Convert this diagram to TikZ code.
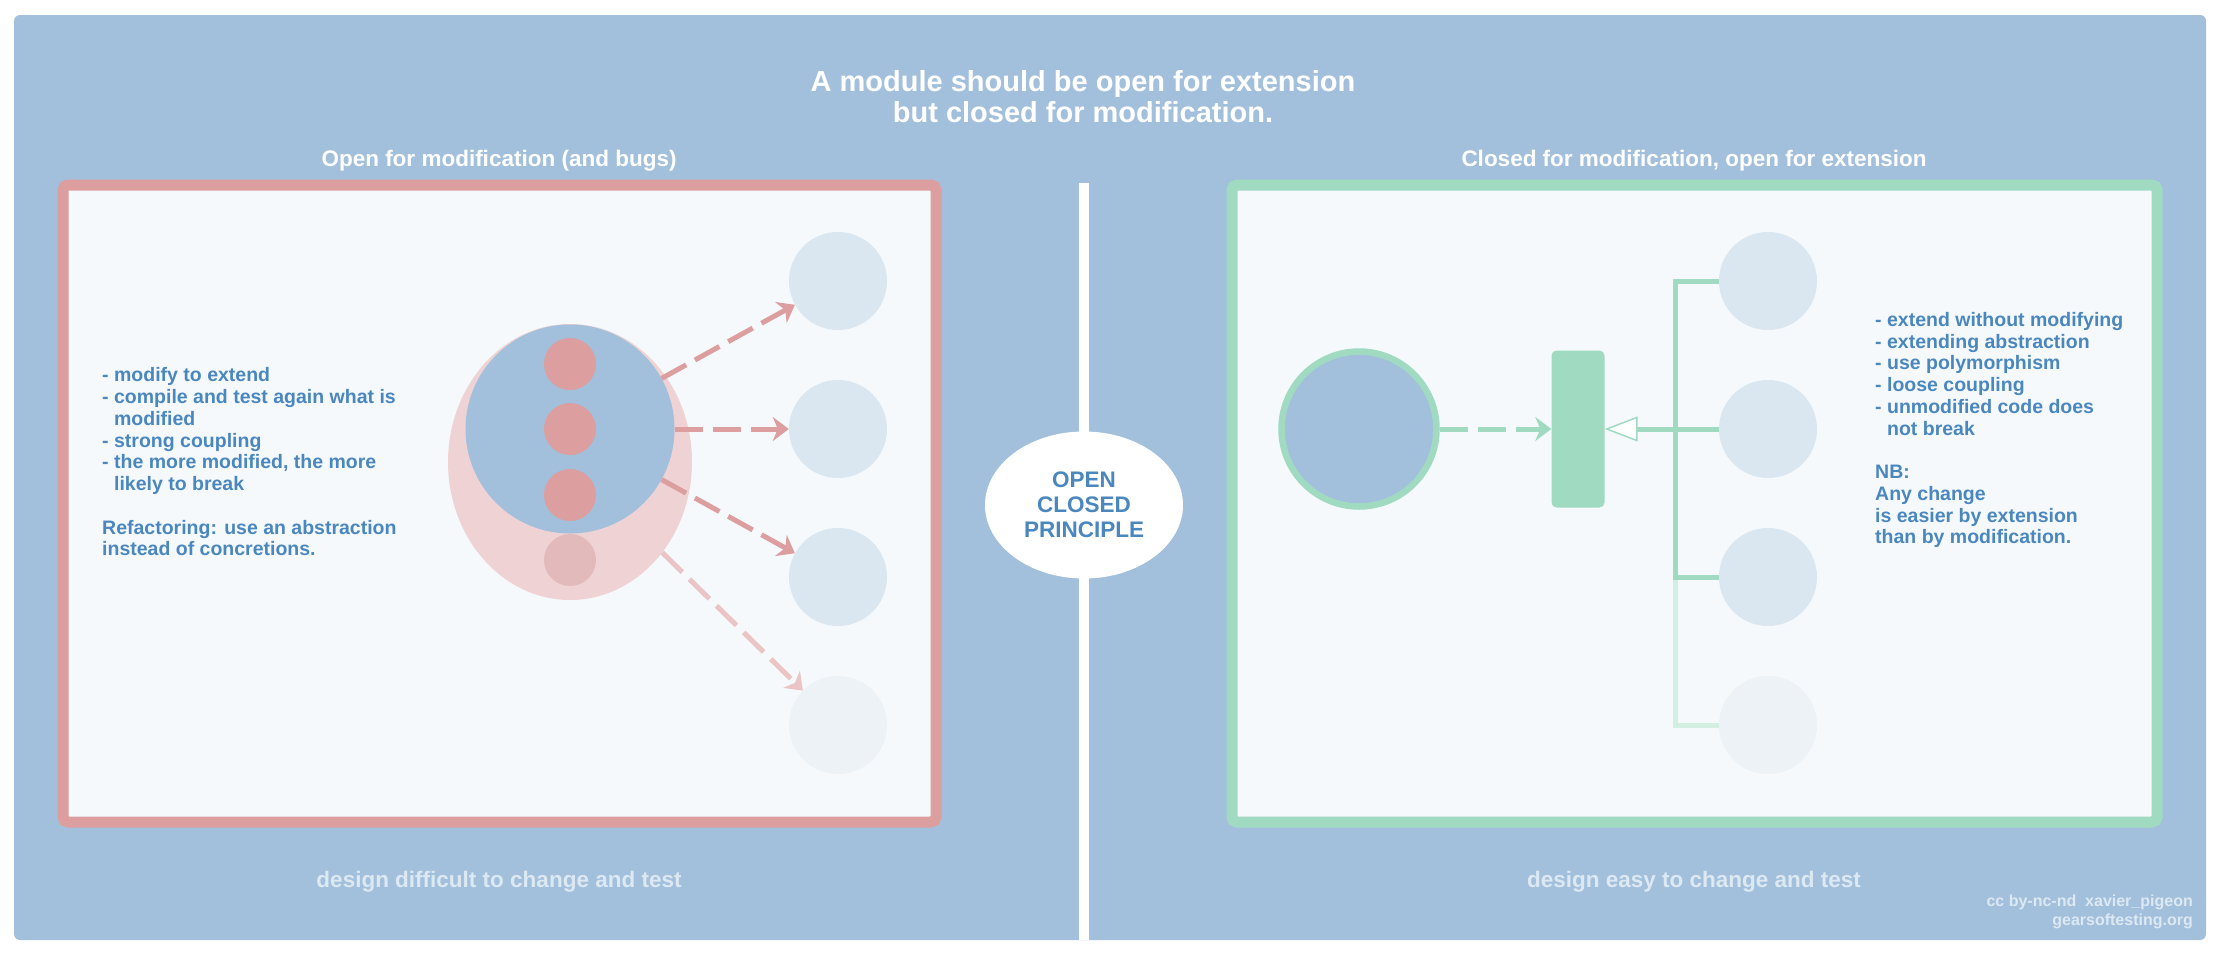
\documentclass[tikz,border=0pt]{standalone}
\usepackage{fontspec}
\setmainfont{Liberation Sans}
\usetikzlibrary{arrows.meta, shapes.geometric}

\definecolor{bgblue}{HTML}{A2C0DC}
\definecolor{paper}{HTML}{F5F9FC}
\definecolor{redline}{HTML}{DC9E9E}
\definecolor{redfaint}{HTML}{EBC5C5}
\definecolor{pinkshell}{HTML}{EFD3D4}
\definecolor{dotfaint}{HTML}{E3BABB}
\definecolor{greenline}{HTML}{A0DBC1}
\definecolor{greenfaint}{HTML}{D2EFE2}
\definecolor{extblue}{HTML}{DAE6F0}
\definecolor{extfaint}{HTML}{EDF2F6}
\definecolor{textblue}{HTML}{4A87BF}
\definecolor{pale}{HTML}{DCE8F2}

\begin{document}
\begin{tikzpicture}[
    x=1pt, y=-1pt,
    every node/.style={inner sep=0pt, font=\bfseries},
    heading/.style={text=white, align=center, font=\fontsize{22.5}{26}\selectfont\bfseries},
    verdict/.style={text=pale, font=\fontsize{22.5}{26}\selectfont\bfseries},
    panel/.style={rectangle, line width=11pt, fill=paper, rounded corners=5pt},
    notes/.style={text=textblue, align=left, anchor=west, font=\fontsize{19.5}{21.75}\selectfont\bfseries},
    blob/.style={circle, minimum size=98pt},
    bugdot/.style={circle, minimum size=52pt},
    dep/.style={line width=5pt, dash pattern=on 28pt off 10pt, -{Stealth[length=16pt, width=24pt, inset=5pt]}},
    hierline/.style={line width=5pt, draw=greenline}
  ]
  \useasboundingbox (0,0) rectangle (2220,972);
  \fill[bgblue, rounded corners=6pt] (14,15) rectangle (2206,940);
  \fill[white] (1079,183) rectangle (1089,940);

  % titles
  \node[heading, font=\fontsize{29}{31}\selectfont\bfseries] (title) at (1083,97)
    {A module should be open for extension\\but closed for modification.};
  \node[heading] (oldtitle) at (499,161) {Open for modification (and bugs)};
  \node[heading] (newtitle) at (1694,161) {Closed for modification, open for extension};

  % panels
  \node[panel, draw=redline, minimum width=873pt, minimum height=637pt] (oldpanel) at (499.5,503.5) {};
  \node[panel, draw=greenline, minimum width=925pt, minimum height=637pt] (newpanel) at (1694.5,503.5) {};

  % open for modification
  \node[notes] (oldnotes) at (102,462) {- modify to extend\\
    - compile and test again what is\\
    \hphantom{- }modified\\
    - strong coupling\\
    - the more modified, the more\\
    \hphantom{- }likely to break\\[\baselineskip]
    Refactoring: use an abstraction\\
    instead of concretions.};
  \node[ellipse, fill=pinkshell, minimum width=244pt, minimum height=276pt] (shell) at (570,462) {};
  \node[circle, fill=bgblue, minimum size=209pt] (core) at (570,429) {};
  \foreach \y/\c [count=\i] in {364/redline, 429/redline, 495/redline, 560/dotfaint}
    \node[bugdot, fill=\c] (bug\i) at (570,\y) {};

  \foreach \y/\c [count=\i] in {281/extblue, 429/extblue, 577/extblue, 725/extfaint} {
    \node[blob, fill=\c] (old\i) at (838,\y) {};
    \node[blob, fill=\c] (new\i) at (1768,\y) {};
  }
  \foreach \i in {1,2,3}
    \draw[dep, redline] (core) -- (old\i);
  \draw[dep, redfaint] (shell) -- (old4);

  % principle
  \node[ellipse, fill=white, minimum width=198pt, minimum height=147pt, text=textblue,
    align=center, font=\fontsize{22.5}{25}\selectfont\bfseries] (ocp) at (1084,505)
    {OPEN\\CLOSED\\PRINCIPLE};

  % closed for modification
  \node[circle, draw=greenline, line width=6.5pt, fill=bgblue, minimum size=155pt] (client) at (1359,429) {};
  \node[rectangle, rounded corners=5pt, fill=greenline, minimum width=53pt, minimum height=157pt] (abstr) at (1578,429) {};
  \draw[dep, greenline] (client) -- (abstr);
  \coordinate (joint) at (1675,429);
  \draw[hierline, draw=greenfaint] (new3.west -| joint) |- (new4.west);
  \draw[hierline] (new1.west) -| (joint) |- (new3.west);
  \draw[hierline] (joint) -- (new2.west);
  \draw[hierline, -{Triangle[open, fill=white, length=33pt, width=25pt, line width'=1.5pt]}] (joint) -- (abstr);
  \node[notes] (newnotes) at (1875,430) {- extend without modifying\\
    - extending abstraction\\
    - use polymorphism\\
    - loose coupling\\
    - unmodified code does\\
    \hphantom{- }not break\\[\baselineskip]
    NB:\\
    Any change\\
    is easier by extension\\
    than by modification.};

  % footer
  \node[verdict] (oldverdict) at (499,882) {design difficult to change and test};
  \node[verdict] (newverdict) at (1694,882) {design easy to change and test};
  \node[text=pale, align=right, anchor=east, font=\fontsize{16}{19.5}\selectfont\bfseries] (credit) at (2193,912)
    {cc by-nc-nd\ \ xavier\_pigeon\\gearsoftesting.org};
\end{tikzpicture}
\end{document}
